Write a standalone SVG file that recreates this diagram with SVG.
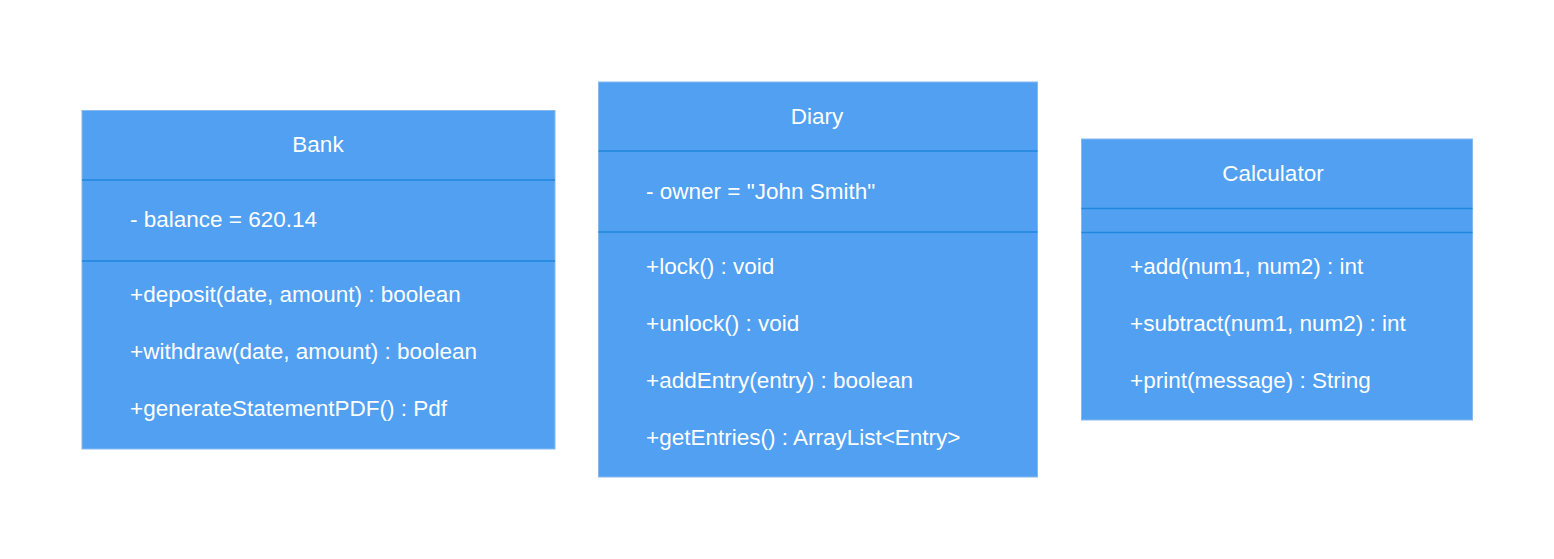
<svg xmlns="http://www.w3.org/2000/svg" width="1554" height="559" viewBox="0 0 1554 559">
<style>
.box{fill:#52a0f2;stroke:#86b9f0;stroke-width:1}
.div{stroke:#1f87dd;stroke-width:1.5}
text{font-family:"Liberation Sans",Arial,sans-serif;font-size:22.5px;fill:#ffffff}
.t{text-anchor:middle}
</style>
<rect width="1554" height="559" fill="#ffffff"/>
<g id="bank">
<rect class="box" x="82" y="110.5" width="473" height="338.5"/>
<line class="div" x1="82" y1="180" x2="555" y2="180"/>
<line class="div" x1="82" y1="261" x2="555" y2="261"/>
<text class="t" x="318" y="151.5">Bank</text>
<text x="130" y="226.5">- balance = 620.14</text>
<text x="130" y="301.5">+deposit(date, amount) : boolean</text>
<text x="130" y="358.5">+withdraw(date, amount) : boolean</text>
<text x="130" y="415.5">+generateStatementPDF() : Pdf</text>
</g>
<g id="diary">
<rect class="box" x="598.5" y="82" width="439" height="395"/>
<line class="div" x1="598.5" y1="151" x2="1037.5" y2="151"/>
<line class="div" x1="598.5" y1="232" x2="1037.5" y2="232"/>
<text class="t" x="817" y="123.5">Diary</text>
<text x="646" y="199">- owner = "John Smith"</text>
<text x="646" y="273.5">+lock() : void</text>
<text x="646" y="330.5">+unlock() : void</text>
<text x="646" y="387.5">+addEntry(entry) : boolean</text>
<text x="646" y="444.5">+getEntries() : ArrayList&lt;Entry&gt;</text>
</g>
<g id="calculator">
<rect class="box" x="1081.5" y="139" width="391" height="281"/>
<line class="div" x1="1081.5" y1="208.5" x2="1472.5" y2="208.5"/>
<line class="div" x1="1081.5" y1="232.5" x2="1472.5" y2="232.5"/>
<text class="t" x="1273" y="180.5">Calculator</text>
<text x="1130" y="273.5">+add(num1, num2) : int</text>
<text x="1130" y="330.5">+subtract(num1, num2) : int</text>
<text x="1130" y="387.5">+print(message) : String</text>
</g>
<g id="connectors"/>
</svg>
